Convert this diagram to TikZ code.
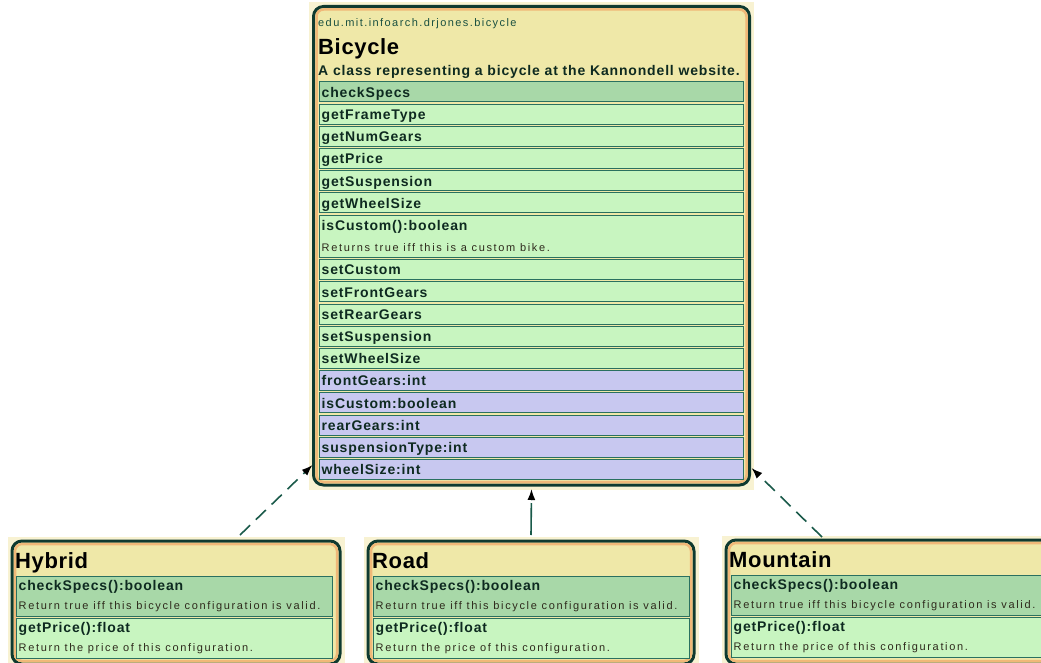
\documentclass[tikz,border=0pt]{standalone}
\usepackage{fontspec}
\setmainfont{Liberation Sans}
\newfontfamily\pkgfont[LetterSpace=13]{Liberation Sans}
\newfontfamily\descfont[LetterSpace=15]{Liberation Sans}
\newfontfamily\opfont[LetterSpace=6]{Liberation Sans}
\newfontfamily\titlefont[LetterSpace=3]{Liberation Sans}
\usetikzlibrary{arrows.meta}

\definecolor{headyellow}{HTML}{EFE8A8}
\definecolor{haloyellow}{HTML}{F8F2D2}
\definecolor{framedark}{HTML}{0F3A30}
\definecolor{frameorange}{HTML}{F0B878}
\definecolor{opgreen}{HTML}{C8F5C0}
\definecolor{opdark}{HTML}{A8D8A8}
\definecolor{attrblue}{HTML}{C8C8F0}
\definecolor{rowedge}{HTML}{2A7060}
\definecolor{inkdark}{HTML}{0E2A20}
\definecolor{descink}{HTML}{2E2A1C}
\definecolor{pkgink}{HTML}{1A5040}
\definecolor{linkteal}{HTML}{1A5A4A}

\tikzset{
  halo/.style={fill=haloyellow},
  frame/.style={fill=headyellow, draw=framedark, line width=3pt,
    rounded corners=10pt, inner sep=0pt, outer sep=0pt},
  innerline/.style={draw=frameorange, line width=2.5pt, rounded corners=7pt},
  rowbox/.style={draw=rowedge, line width=1pt, inner sep=0pt, outer sep=0pt},
  oprow/.style={rowbox, fill=opgreen},
  keyrow/.style={rowbox, fill=opdark},
  attrrow/.style={rowbox, fill=attrblue},
  optext/.style={inner sep=0pt, text=inkdark,
    font=\opfont\bfseries\fontsize{14}{16}\selectfont},
  desctext/.style={inner sep=0pt, text=descink,
    font=\descfont\fontsize{11}{12}\selectfont},
  pkgtext/.style={inner sep=0pt, text=pkgink,
    font=\pkgfont\fontsize{11}{13}\selectfont},
  titletext/.style={inner sep=0pt, text=black,
    font=\titlefont\bfseries\fontsize{22}{24}\selectfont},
  realizes/.style={draw=linkteal, line width=1.6pt, dash pattern=on 14pt off 8pt,
    -{Latex[length=11pt,width=8pt,color=black]}},
}

% class frame: #1 name, #2 x, #3 y, #4 width, #5 height
\newcommand\classframe[5]{%
  \fill[halo] (#2-4.5,#3-4.5) rectangle (#2+#4+4.5,#3+#5+4.5);
  \node[frame, anchor=north west, minimum width=#4, minimum height=#5] (#1) at (#2,#3) {};
  \draw[innerline] ([shift={(3,3)}]#1.north west) rectangle ([shift={(-3,-3)}]#1.south east);
}
% compartment row: #1 name, #2 style, #3 x, #4 top, #5 width, #6 height
\newcommand\comprow[6]{%
  \node[#2, anchor=north west, minimum width=#5, minimum height=#6] (#1) at (#3,#4) {};
}
% text in a row: #1 row name, #2 suffix, #3 style, #4 baseline offset, #5 text
\newcommand\rowtext[5]{%
  \node[#3, anchor=base west] (#1-#2) at ([shift={(2.5,#4)}]#1.north west) {#5};
}

\begin{document}
\begin{tikzpicture}[x=1pt, y=-1pt]
\useasboundingbox (0,0) rectangle (1041,663);

% ---------- Bicycle ----------
\classframe{bike}{313.5}{6.5}{436}{478.5}
\node[pkgtext, anchor=base west] (bikepkg) at (318,26.5) {edu.mit.infoarch.drjones.bicycle};
\node[titletext, anchor=base west] (bikename) at (318,55) {Bicycle};
\node[optext, anchor=base west] (bikedoc) at (318,75.5) {A class representing a bicycle at the Kannondell website.};

\comprow{b1}{keyrow}{319}{82.0}{424}{20}
\rowtext{b1}{t}{optext}{15.3}{checkSpecs}
\comprow{b2}{oprow}{319}{104.2}{424}{20}
\rowtext{b2}{t}{optext}{15.3}{getFrameType}
\comprow{b3}{oprow}{319}{126.4}{424}{20}
\rowtext{b3}{t}{optext}{15.3}{getNumGears}
\comprow{b4}{oprow}{319}{148.6}{424}{20}
\rowtext{b4}{t}{optext}{15.3}{getPrice}
\comprow{b5}{oprow}{319}{170.8}{424}{20}
\rowtext{b5}{t}{optext}{15.3}{getSuspension}
\comprow{b6}{oprow}{319}{193.0}{424}{20}
\rowtext{b6}{t}{optext}{15.3}{getWheelSize}
\comprow{b7}{oprow}{319}{215.2}{424}{42.2}
\rowtext{b7}{t}{optext}{15.5}{isCustom():boolean}
\rowtext{b7}{d}{desctext}{36}{Returns true iff this is a custom bike.}
\comprow{b8}{oprow}{319}{259.6}{424}{20}
\rowtext{b8}{t}{optext}{15.3}{setCustom}
\comprow{b9}{oprow}{319}{281.8}{424}{20}
\rowtext{b9}{t}{optext}{15.3}{setFrontGears}
\comprow{b10}{oprow}{319}{304.0}{424}{20}
\rowtext{b10}{t}{optext}{15.3}{setRearGears}
\comprow{b11}{oprow}{319}{326.2}{424}{20}
\rowtext{b11}{t}{optext}{15.3}{setSuspension}
\comprow{b12}{oprow}{319}{348.4}{424}{20}
\rowtext{b12}{t}{optext}{15.3}{setWheelSize}
\comprow{b13}{attrrow}{319}{370.6}{424}{20}
\rowtext{b13}{t}{optext}{15.3}{frontGears:int}
\comprow{b14}{attrrow}{319}{392.8}{424}{20}
\rowtext{b14}{t}{optext}{15.3}{isCustom:boolean}
\comprow{b15}{attrrow}{319}{415.0}{424}{20}
\rowtext{b15}{t}{optext}{15.3}{rearGears:int}
\comprow{b16}{attrrow}{319}{437.2}{424}{20}
\rowtext{b16}{t}{optext}{15.3}{suspensionType:int}
\comprow{b17}{attrrow}{319}{459.4}{424}{20}
\rowtext{b17}{t}{optext}{15.3}{wheelSize:int}

% ---------- Hybrid ----------
\classframe{hyb}{12}{541}{328}{123}
\node[titletext, anchor=base west] (hybname) at (15,568.3) {Hybrid};
\comprow{h1}{keyrow}{16}{576}{316}{40}
\rowtext{h1}{t}{optext}{14.5}{checkSpecs():boolean}
\rowtext{h1}{d}{desctext}{33.5}{Return true iff this bicycle configuration is valid.}
\comprow{h2}{oprow}{16}{618}{316}{40}
\rowtext{h2}{t}{optext}{14.5}{getPrice():float}
\rowtext{h2}{d}{desctext}{33.5}{Return the price of this configuration.}

% ---------- Road ----------
\classframe{road}{368}{541}{326}{123}
\node[titletext, anchor=base west] (roadname) at (372,568.3) {Road};
\comprow{r1}{keyrow}{373}{576}{316}{40}
\rowtext{r1}{t}{optext}{14.5}{checkSpecs():boolean}
\rowtext{r1}{d}{desctext}{33.5}{Return true iff this bicycle configuration is valid.}
\comprow{r2}{oprow}{373}{618}{316}{40}
\rowtext{r2}{t}{optext}{14.5}{getPrice():float}
\rowtext{r2}{d}{desctext}{33.5}{Return the price of this configuration.}

% ---------- Mountain ----------
\classframe{mtn}{726}{540}{340}{124}
\node[titletext, anchor=base west] (mtnname) at (729,567.3) {Mountain};
\comprow{m1}{keyrow}{731}{575}{330}{40}
\rowtext{m1}{t}{optext}{14.5}{checkSpecs():boolean}
\rowtext{m1}{d}{desctext}{33.5}{Return true iff this bicycle configuration is valid.}
\comprow{m2}{oprow}{731}{617}{330}{40}
\rowtext{m2}{t}{optext}{14.5}{getPrice():float}
\rowtext{m2}{d}{desctext}{33.5}{Return the price of this configuration.}

% ---------- generalisation links ----------
\draw[realizes] ([xshift=64pt,yshift=6pt]hyb.north) -- ([xshift=-1pt,yshift=20pt]bike.south west);
\draw[realizes, dash pattern=on 32pt off 3pt] ([yshift=6pt]road.north) -- ([yshift=-4pt]bike.south);
\draw[realizes] ([xshift=96pt,yshift=3pt]mtn.north west) -- ([xshift=2pt,yshift=17pt]bike.south east);
\end{tikzpicture}
\end{document}
